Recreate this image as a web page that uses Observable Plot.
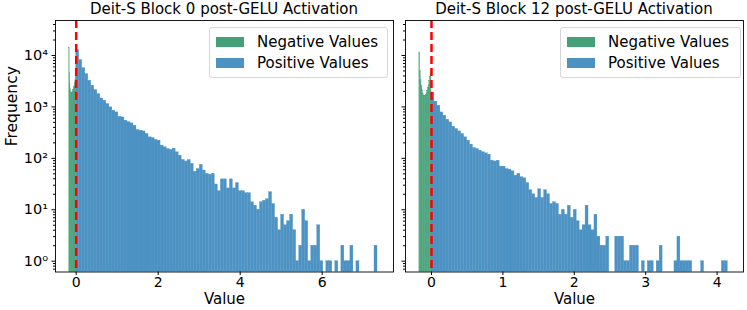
<!DOCTYPE html>
<html><head><meta charset="utf-8">
<script src="https://cdn.jsdelivr.net/npm/d3@7"></script>
<script src="https://cdn.jsdelivr.net/npm/@observablehq/plot@0.6"></script>
<style>
body{margin:0;background:#fff;font-family:"DejaVu Sans",sans-serif;color:#000;}
#wrap{position:relative;width:747px;height:310px;overflow:hidden;}
.title{position:absolute;top:0;height:16px;font-size:15px;line-height:19px;text-align:center;white-space:nowrap;}
.panel{position:absolute;top:16px;}
.legend{position:absolute;top:27px;height:51px;box-sizing:border-box;border:1px solid #d6d6d6;border-radius:3px;background:rgba(255,255,255,0.8);font-size:15px;}
.legend .row{position:absolute;left:6px;height:21px;display:flex;align-items:center;white-space:nowrap;}
.legend .sw{width:28px;height:10px;margin-right:13px;}
</style></head>
<body><div id="wrap"></div>
<script>
// ---- data ----
const titles = ["Deit-S Block 0 post-GELU Activation", "Deit-S Block 12 post-GELU Activation"];
const seriesLabels = ["Negative Values", "Positive Values"];

// positive-value histogram counts (100 bins starting at 0)
const block0PosBinWidth = 0.0735;
const block0Positive = [12700,8150,5690,4350,3230,2580,2130,1780,1460,1320,
  1140,980,843,782,645,625,540,508,478,432,
  356,345,334,298,256,249,228,221,177,164,
  152,146,154,131,113,93,87,93,78,55,
  62,75,58,50,48,50,31,23,39,39,
  26,39,26,33,23,23,21,21,14,12,
  10,14,15,16,22,13,7,4,8,5,
  6,8,4,1,2,10,6,1,2,2,
  5,1,0,1,1,0,1,0,2,1,
  1,2,0,1,0,0,0,0,0,2];
const block12PosBinWidth = 0.0415;
const block12Positive = [1910,1260,1055,782,675,564,500,413,372,334,
  298,256,221,185,159,152,141,131,125,118,
  90,87,90,69,69,62,60,56,46,50,
  43,41,33,24,20,17,25,17,24,20,
  13,14,13,8,10,8,12,7,10,6,
  4,5,12,5,4,8,3,2,2,3,
  0,0,3,3,3,1,1,2,2,2,
  0,1,0,1,1,0,1,2,0,0,
  0,0,1,3,1,1,1,1,0,0,
  0,1,0,0,0,0,0,0,1,1];

// negative-value histogram counts (fine bins from -0.17 to 0)
const negBinStart = -0.17, negBinWidth = 0.01;
const block0Negative = [14000,4500,2800,2200,1950,1850,1850,1900,1950,2050,2150,2300,2450,2650,2900,3300,3900];
const block12Negative = [11500,5000,3300,2600,2100,1800,1650,1620,1650,1720,1850,2050,2350,2700,3200,3800,4700];

const block0XTicks = [0, 2, 4, 6];
const block12XTicks = [0, 1, 2, 3, 4];
const yMajorTicks = [1, 10, 100, 1000, 10000];
const yMinorTicks = [0.7,0.8,0.9, 2,3,4,5,6,7,8,9, 20,30,40,50,60,70,80,90,
  200,300,400,500,600,700,800,900, 2000,3000,4000,5000,6000,7000,8000,9000, 20000,30000,40000];
const yDomain = [0.616, 47900];

// ---- styles ----
const GREEN = "#44a077";
const BLUE = "#4c92c3";
const sup = {"0":"⁰","1":"¹","2":"²","3":"³","4":"⁴","5":"⁵","-":"⁻"};
const fmtPow = d => "10" + String(Math.round(Math.log10(d))).split("").map(c => sup[c]).join("");

function bins(counts, start, w) {
  return counts.map((c, i) => ({x1: start + i * w, x2: start + (i + 1) * w, count: c})).filter(d => d.count > 0);
}

function panel({pos, posW, neg, xDomain, xTicks, width, marginLeft, marginRight, first}) {
  return Plot.plot({
    width, height: 294, marginTop: 4, marginBottom: 38.5, marginLeft, marginRight,
    style: {fontFamily: "DejaVu Sans", fontSize: "15px", color: "black", background: "transparent", overflow: "visible"},
    x: {domain: xDomain},
    y: {type: "log", domain: yDomain},
    marks: [
      Plot.rect(bins(neg, negBinStart, negBinWidth), {x1: "x1", x2: "x2", y1: () => 0.01, y2: "count", fill: GREEN, stroke: GREEN, strokeWidth: 0.3, clip: true}),
      Plot.rect(bins(pos, 0, posW), {x1: "x1", x2: "x2", y1: () => 0.01, y2: "count", fill: BLUE, stroke: BLUE, strokeWidth: 0.3, clip: true}),
      Plot.ruleX([0], {stroke: "red", strokeWidth: 2.5, strokeDasharray: "8,4"}),
      Plot.frame({stroke: "black", strokeWidth: 0.9}),
      Plot.axisX({ticks: xTicks, tickSize: 3.5, tickPadding: 2, tickFormat: d => String(d), label: null, fontSize: 14}),
      Plot.axisY({ticks: yMajorTicks, tickSize: 3.5, tickPadding: 4, tickFormat: first ? fmtPow : () => "", label: null, fontSize: 14.5}),
      Plot.axisY({ticks: yMinorTicks, tickSize: 2, tickFormat: () => "", label: null}),
      Plot.text(["Value"], {frameAnchor: "bottom", dy: 32, fontSize: 15}),
      ...(first ? [Plot.text(["Frequency"], {frameAnchor: "left", rotate: -90, dx: -43, fontSize: 15.5})] : [])
    ]
  });
}

const wrap = document.getElementById("wrap");
const panels = [
  {pos: block0Positive, posW: block0PosBinWidth, neg: block0Negative, xDomain: [-0.505, 7.74], xTicks: block0XTicks,
   left: 0, width: 398, marginLeft: 55, marginRight: 5, first: true, legendLeft: 209, legendWidth: 179},
  {pos: block12Positive, posW: block12PosBinWidth, neg: block12Negative, xDomain: [-0.364, 4.37], xTicks: block12XTicks,
   left: 398, width: 349, marginLeft: 7, marginRight: 4, first: false, legendLeft: 560, legendWidth: 181}
];
panels.forEach((p, i) => {
  const div = document.createElement("div");
  div.className = "panel";
  div.style.left = p.left + "px";
  div.appendChild(panel(p));
  wrap.appendChild(div);

  const t = document.createElement("div");
  t.className = "title";
  t.style.left = (p.left + p.marginLeft) + "px";
  t.style.width = (p.width - p.marginLeft - p.marginRight) + "px";
  t.textContent = titles[i];
  wrap.appendChild(t);

  const lg = document.createElement("div");
  lg.className = "legend";
  lg.style.left = p.legendLeft + "px";
  lg.style.width = p.legendWidth + "px";
  [GREEN, BLUE].forEach((c, j) => {
    const row = document.createElement("div");
    row.className = "row";
    row.style.top = (3 + j * 21) + "px";
    const sw = document.createElement("span");
    sw.className = "sw";
    sw.style.background = c;
    const tx = document.createElement("span");
    tx.textContent = seriesLabels[j];
    row.appendChild(sw); row.appendChild(tx);
    lg.appendChild(row);
  });
  wrap.appendChild(lg);
});
</script>
</body></html>
